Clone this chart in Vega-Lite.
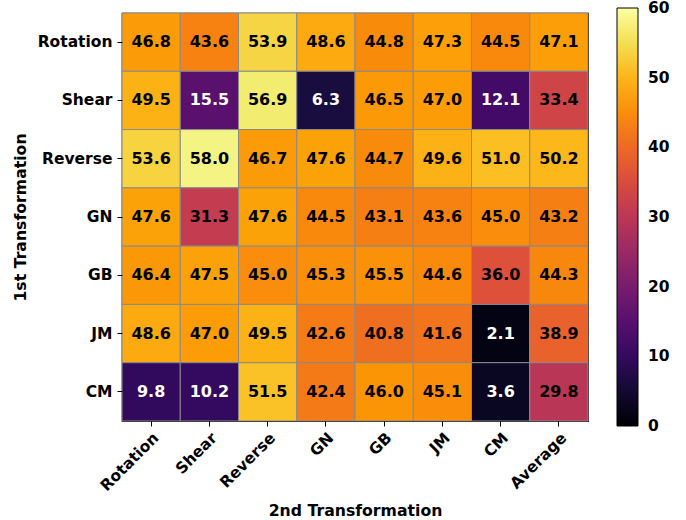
{
  "$schema": "https://vega.github.io/schema/vega-lite/v6.json",
  "width": 466,
  "height": 408,
  "autosize": "none",
  "padding": {"left": 122, "top": 13, "right": 98, "bottom": 99},
  "background": "white",
  "config": {
    "font": "DejaVu Sans",
    "view": {"stroke": "black", "strokeWidth": 1.2},
    "axis": {"labelFont": "DejaVu Sans", "labelFontWeight": "bold", "labelFontSize": 15.5, "labelColor": "black", "titleFont": "DejaVu Sans", "titleFontWeight": "bold", "titleFontSize": 15.7, "titleColor": "black", "tickColor": "black", "tickSize": 5, "domain": false, "grid": false},
    "legend": {"labelFont": "DejaVu Sans", "labelFontWeight": "bold", "labelFontSize": 15.5, "labelColor": "black"}
  },
  "data": {"values": [
    {"r": "Rotation", "c": "Rotation", "v": 46.8}, {"r": "Rotation", "c": "Shear", "v": 43.6}, {"r": "Rotation", "c": "Reverse", "v": 53.9}, {"r": "Rotation", "c": "GN", "v": 48.6}, {"r": "Rotation", "c": "GB", "v": 44.8}, {"r": "Rotation", "c": "JM", "v": 47.3}, {"r": "Rotation", "c": "CM", "v": 44.5}, {"r": "Rotation", "c": "Average", "v": 47.1},
    {"r": "Shear", "c": "Rotation", "v": 49.5}, {"r": "Shear", "c": "Shear", "v": 15.5}, {"r": "Shear", "c": "Reverse", "v": 56.9}, {"r": "Shear", "c": "GN", "v": 6.3}, {"r": "Shear", "c": "GB", "v": 46.5}, {"r": "Shear", "c": "JM", "v": 47.0}, {"r": "Shear", "c": "CM", "v": 12.1}, {"r": "Shear", "c": "Average", "v": 33.4},
    {"r": "Reverse", "c": "Rotation", "v": 53.6}, {"r": "Reverse", "c": "Shear", "v": 58.0}, {"r": "Reverse", "c": "Reverse", "v": 46.7}, {"r": "Reverse", "c": "GN", "v": 47.6}, {"r": "Reverse", "c": "GB", "v": 44.7}, {"r": "Reverse", "c": "JM", "v": 49.6}, {"r": "Reverse", "c": "CM", "v": 51.0}, {"r": "Reverse", "c": "Average", "v": 50.2},
    {"r": "GN", "c": "Rotation", "v": 47.6}, {"r": "GN", "c": "Shear", "v": 31.3}, {"r": "GN", "c": "Reverse", "v": 47.6}, {"r": "GN", "c": "GN", "v": 44.5}, {"r": "GN", "c": "GB", "v": 43.1}, {"r": "GN", "c": "JM", "v": 43.6}, {"r": "GN", "c": "CM", "v": 45.0}, {"r": "GN", "c": "Average", "v": 43.2},
    {"r": "GB", "c": "Rotation", "v": 46.4}, {"r": "GB", "c": "Shear", "v": 47.5}, {"r": "GB", "c": "Reverse", "v": 45.0}, {"r": "GB", "c": "GN", "v": 45.3}, {"r": "GB", "c": "GB", "v": 45.5}, {"r": "GB", "c": "JM", "v": 44.6}, {"r": "GB", "c": "CM", "v": 36.0}, {"r": "GB", "c": "Average", "v": 44.3},
    {"r": "JM", "c": "Rotation", "v": 48.6}, {"r": "JM", "c": "Shear", "v": 47.0}, {"r": "JM", "c": "Reverse", "v": 49.5}, {"r": "JM", "c": "GN", "v": 42.6}, {"r": "JM", "c": "GB", "v": 40.8}, {"r": "JM", "c": "JM", "v": 41.6}, {"r": "JM", "c": "CM", "v": 2.1}, {"r": "JM", "c": "Average", "v": 38.9},
    {"r": "CM", "c": "Rotation", "v": 9.8}, {"r": "CM", "c": "Shear", "v": 10.2}, {"r": "CM", "c": "Reverse", "v": 51.5}, {"r": "CM", "c": "GN", "v": 42.4}, {"r": "CM", "c": "GB", "v": 46.0}, {"r": "CM", "c": "JM", "v": 45.1}, {"r": "CM", "c": "CM", "v": 3.6}, {"r": "CM", "c": "Average", "v": 29.8}
  ]},
  "encoding": {
    "x": {"field": "c", "type": "nominal", "sort": ["Rotation", "Shear", "Reverse", "GN", "GB", "JM", "CM", "Average"], "scale": {"paddingInner": 0, "paddingOuter": 0}, "title": "2nd Transformation", "axis": {"labelAngle": -45, "labelAlign": "right", "labelBaseline": "top", "labelPadding": 4, "titlePadding": 10}},
    "y": {"field": "r", "type": "nominal", "sort": ["Rotation", "Shear", "Reverse", "GN", "GB", "JM", "CM"], "scale": {"paddingInner": 0, "paddingOuter": 0}, "title": "1st Transformation", "axis": {"labelPadding": 5, "titlePadding": 9}}
  },
  "layer": [
    {
      "mark": {"type": "rect", "stroke": "#8a8a8a", "strokeWidth": 1},
      "encoding": {
        "color": {"field": "v", "type": "quantitative", "scale": {"scheme": "inferno", "domain": [0, 60]}, "legend": {"title": null, "orient": "none", "legendX": 495, "legendY": -5, "direction": "vertical", "gradientLength": 418, "gradientThickness": 21, "gradientStrokeColor": "black", "gradientStrokeWidth": 1, "values": [0, 10, 20, 30, 40, 50, 60], "labelOverlap": false, "labelOffset": 10, "padding": 0, "encode": {"labels": {"update": {"baseline": {"value": "middle"}}}}}}
      }
    },
    {
      "mark": {"type": "text", "fontWeight": "bold", "fontSize": 16, "font": "DejaVu Sans"},
      "encoding": {
        "text": {"field": "v", "type": "quantitative", "format": ".1f"},
        "color": {"condition": {"test": "datum.v < 20", "value": "white"}, "value": "black"}
      }
    }
  ]
}
